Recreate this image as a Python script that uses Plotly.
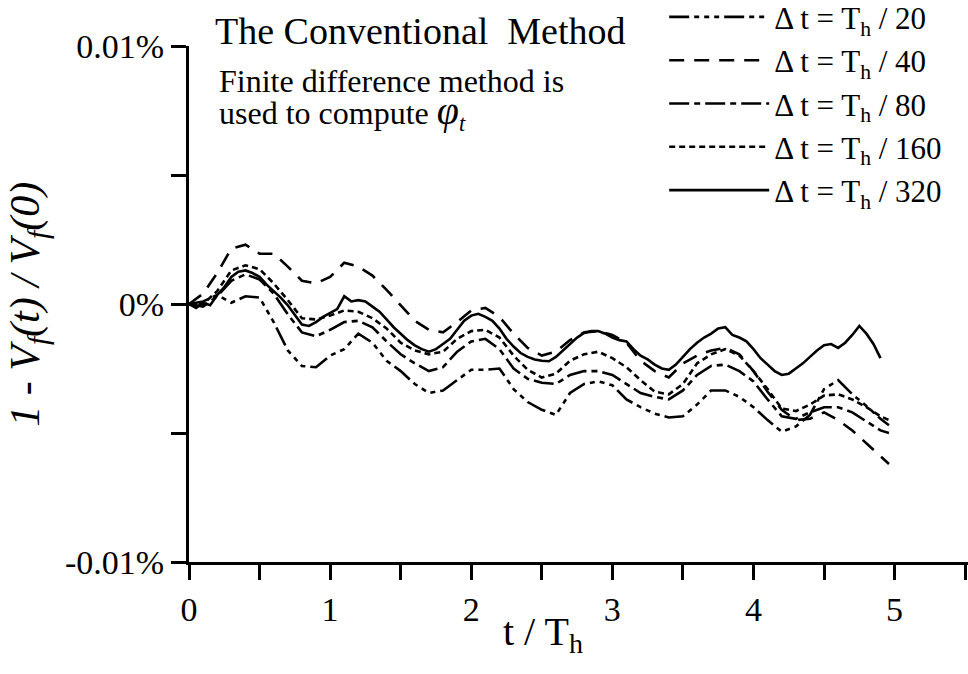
import plotly.graph_objects as go

# Relative volume error 1 - Vf(t)/Vf(0), in units of 0.001 %
# Time axis in units of the wave period Th

# finest step (dt = Th/320), sampled every 0.05 Th
t_fine = [round(0.05 * i, 2) for i in range(99)]
err_320 = [
    0.00, -0.15, 0.05, -0.05, 0.35, 0.65, 1.05, 1.25, 1.30, 1.20,
    1.05, 0.75, 0.50, 0.25, -0.05, -0.45, -0.80, -0.85, -0.70, -0.50,
    -0.35, -0.20, 0.30, 0.10, 0.15, 0.10, -0.10, -0.30, -0.60, -0.90,
    -1.15, -1.40, -1.60, -1.75, -1.85, -1.75, -1.55, -1.35, -1.00, -0.65,
    -0.45, -0.38, -0.50, -0.65, -0.95, -1.35, -1.65, -1.90, -2.05, -2.15,
    -2.20, -2.22, -2.05, -1.80, -1.55, -1.30, -1.12, -1.05, -1.05, -1.15,
    -1.30, -1.40, -1.45, -1.75, -2.00, -2.15, -2.35, -2.50, -2.55, -2.35,
    -2.05, -1.75, -1.50, -1.30, -1.15, -0.95, -0.90, -1.20, -1.30, -1.45,
    -1.75, -2.10, -2.35, -2.60, -2.75, -2.70, -2.50, -2.30, -2.05, -1.80,
    -1.60, -1.55, -1.70, -1.50, -1.20, -0.85, -1.15, -1.55, -2.10,
]

# coarser steps, sampled every 0.1 Th
t_coarse = [round(0.1 * i, 1) for i in range(50)] + [4.96]
err_20 = [
    0.00, 0.10, 0.35, 0.05, 0.30, 0.25, -0.70, -1.80, -2.40, -2.45,
    -2.00, -1.75, -1.15, -1.50, -2.20, -2.60, -3.10, -3.45, -3.35, -2.95,
    -2.55, -2.55, -2.50, -3.30, -3.80, -4.10, -4.30, -3.45, -3.10, -3.00,
    -3.15, -3.70, -4.00, -4.25, -4.40, -4.35, -3.90, -3.35, -3.35, -3.60,
    -4.00, -4.50, -4.95, -4.75, -4.30, -3.30, -2.95, -3.50, -3.95, -4.45,
    -4.70,
]
err_40 = [
    0.00, 0.40, 1.20, 2.15, 2.30, 1.95, 1.95, 1.45, 0.90, 0.80,
    1.05, 1.60, 1.45, 1.10, 0.55, -0.05, -0.65, -1.00, -1.10, -0.70,
    -0.25, -0.15, -0.50, -1.15, -1.70, -2.00, -1.85, -1.40, -1.10, -1.05,
    -1.20, -1.50, -2.20, -2.60, -2.85, -2.30, -2.00, -1.80, -1.70, -1.95,
    -2.60, -3.40, -4.10, -4.50, -4.45, -4.20, -4.50, -4.90, -5.40, -5.90,
    -6.20,
]
err_80 = [
    0.00, -0.10, 0.30, 0.90, 1.15, 0.95, 0.40, -0.40, -1.10, -1.25,
    -1.00, -0.70, -0.65, -0.90, -1.45, -1.95, -2.30, -2.60, -2.45, -1.85,
    -1.45, -1.35, -1.75, -2.50, -2.90, -3.05, -3.10, -2.75, -2.60, -2.60,
    -2.75, -3.10, -3.45, -3.60, -3.70, -3.35, -2.75, -2.40, -2.35, -2.60,
    -3.00, -3.70, -4.35, -4.45, -4.20, -4.00, -4.00, -4.20, -4.55, -4.90,
    -5.00,
]
err_160 = [
    0.00, 0.00, 0.50, 1.30, 1.50, 1.35, 0.80, 0.15, -0.55, -0.60,
    -0.45, -0.25, -0.30, -0.55, -0.95, -1.50, -1.80, -1.95, -1.85, -1.35,
    -1.05, -1.00, -1.30, -2.00, -2.55, -2.85, -2.70, -2.20, -1.95, -1.85,
    -2.10, -2.45, -2.95, -3.40, -3.50, -3.10, -2.30, -1.95, -1.75, -2.00,
    -2.60, -3.30, -4.05, -4.15, -3.90, -3.55, -3.50, -3.70, -4.00, -4.35,
    -4.50,
]

series = [
    ("20", t_coarse, err_20, "20px,5px,5px,5px,5px,5px,5px,5px"),
    ("40", t_coarse, err_40, "15px,10px"),
    ("80", t_coarse, err_80, "20px,5px,6px,5px"),
    ("160", t_coarse, err_160, "6px,4px"),
    ("320", t_fine, err_320, "solid"),
]

y_tickvals = [-10, -5, 0, 5, 10]
y_ticktext = ["-0.01%", "", "0%", "", "0.01%"]
x_tickvals = [0.5 * i for i in range(12)]
x_ticktext = ["0", "", "1", "", "2", "", "3", "", "4", "", "5", ""]

SERIF = "Liberation Serif"


def serif(size):
    return dict(family=SERIF, size=size, color="black")


fig = go.Figure()
for div, t, err, dash in series:
    fig.add_trace(go.Scatter(
        x=t, y=err, mode="lines",
        name="\u0394 t = T<sub>h</sub> / " + div,
        line=dict(color="black", width=2.6, dash=dash),
    ))

fig.update_layout(
    width=968, height=674,
    margin=dict(l=189, r=0, t=46, b=112, autoexpand=False),
    paper_bgcolor="white", plot_bgcolor="white",
    font=serif(34),
    showlegend=True,
    legend=dict(
        x=0.61, y=1.108, xanchor="left", yanchor="top",
        bgcolor="rgba(0,0,0,0)", font=serif(31),
        itemwidth=100, tracegroupgap=0,
    ),
    xaxis=dict(
        range=[0, 5.52], showgrid=False, zeroline=False,
        showline=True, linecolor="black", linewidth=3,
        tickmode="array", tickvals=x_tickvals, ticktext=x_ticktext,
        ticks="outside", ticklen=15, tickwidth=2.5, tickcolor="black",
        tickfont=serif(34),
    ),
    yaxis=dict(
        range=[-10, 10], showgrid=False, zeroline=False,
        showline=True, linecolor="black", linewidth=3,
        tickmode="array", tickvals=y_tickvals, ticktext=y_ticktext,
        ticks="outside", ticklen=15, tickwidth=2.5, tickcolor="black",
        tickfont=serif(34),
    ),
    annotations=[
        dict(text="The Conventional\u00a0\u00a0Method", x=0.297, y=1.03,
             xref="paper", yref="paper", xanchor="center", yanchor="middle",
             showarrow=False, font=serif(38)),
        dict(text="Finite difference method is",
             x=0.036, y=0.932, xref="paper", yref="paper",
             xanchor="left", yanchor="middle",
             showarrow=False, font=serif(32)),
        dict(text="used to compute "
                  "<span style='font-size:40px'><i>\u03c6</i></span>"
                  "<sub><i>t</i></sub>",
             x=0.036, y=0.872, xref="paper", yref="paper",
             xanchor="left", yanchor="middle",
             showarrow=False, font=serif(32)),
        dict(text="<i>1 - V<sub>f</sub>(t) / V<sub>f</sub>(0)</i>",
             x=-0.207, y=0.5, xref="paper", yref="paper",
             xanchor="center", yanchor="middle", textangle=-90,
             showarrow=False, font=serif(42)),
        dict(text="t / T<sub>h</sub>", x=0.455, y=-0.14,
             xref="paper", yref="paper", xanchor="center", yanchor="middle",
             showarrow=False, font=serif(40)),
    ],
)

fig.write_html("out.html")
